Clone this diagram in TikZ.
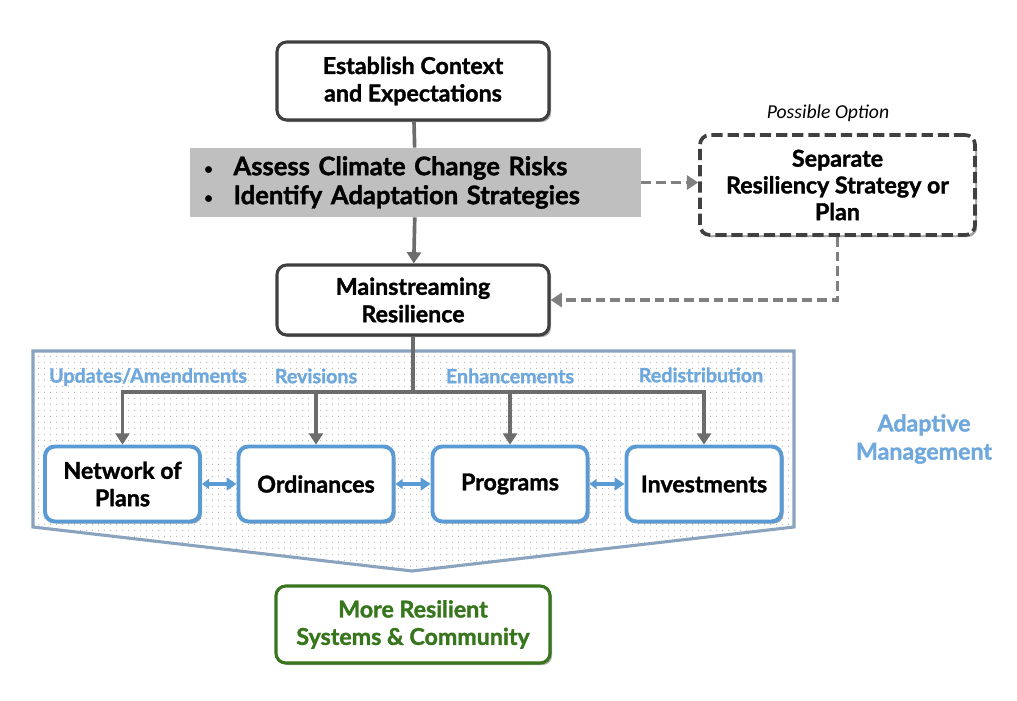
\documentclass[tikz,border=0pt]{standalone}
\usepackage{fontspec}
\setmainfont{Lato}[BoldFeatures={FakeBold=1.4}]
\newfontfamily\calibri{Carlito}
\usepackage{xcolor}
\definecolor{grisborde}{RGB}{64, 64, 64}
\definecolor{grislinea}{RGB}{108, 108, 108}
\definecolor{grisdash}{RGB}{128, 128, 128}
\definecolor{grisfondo}{RGB}{191, 191, 191}
\definecolor{azulcaja}{RGB}{91, 155, 213}
\definecolor{azultexto}{RGB}{111, 168, 220}
\definecolor{azulmarco}{RGB}{138, 163, 190}
\definecolor{verdeoscuro}{RGB}{56, 118, 29}
\usepackage{tikz}
\usetikzlibrary{shapes, positioning, arrows.meta, shadows, patterns.meta}

\tikzdeclarepattern{
  name=puntos,
  type=uncolored,
  bounding box={(0pt,0pt) and (4.3pt,4.3pt)},
  tile size={(4.3pt,4.3pt)},
  code={\fill (2.15pt,2.15pt) circle (0.5pt);}
}

\tikzset{
  sombra/.style={drop shadow={shadow xshift=1.5pt, shadow yshift=-1.5pt, opacity=0.35, fill=black}},
  caja/.style={draw=grisborde, line width=2.2pt, rounded corners=7pt, fill=white, align=center,
    font=\fontsize{16.5}{19.5}\selectfont\bfseries, sombra},
  cajaazul/.style={caja, draw=azulcaja, line width=2.8pt, minimum width=3.875cm, minimum height=1.875cm},
  linea/.style={draw=grislinea, line width=2.6pt, -{Triangle[width=10pt,length=8pt]}},
  lineadash/.style={draw=grisdash, line width=2.6pt, dash pattern=on 7pt off 3.5pt,
    -{Triangle[width=10pt,length=8pt]}},
  doble/.style={draw=azulcaja, line width=2.4pt,
    {Triangle[width=7pt,length=5pt]}-{Triangle[width=9pt,length=7pt]}},
  etiqueta/.style={text=azultexto, font=\fontsize{14}{16}\selectfont\bfseries}
}

\begin{document}
\begin{tikzpicture}[x=0.025cm, y=-0.025cm]
  \useasboundingbox (0,0) rectangle (1017,701);

  % Marco de gestion adaptativa
  \draw[azulmarco, line width=2.2pt, pattern=puntos, pattern color=gray!60]
    (33,351) -- (794,351) -- (794,527) -- (412,571) -- (33,527) -- cycle;

  % Cajas principales
  \node[caja, minimum width=6.8cm, minimum height=1.95cm] (contexto) at (413,81)
    {Establish Context\\and Expectations};
  \node[fill=grisfondo, minimum width=11.275cm, minimum height=1.725cm, text width=10.6cm,
    inner xsep=0.325cm, align=left, font=\fontsize{18.2}{20.6}\selectfont\bfseries] (riesgos) at (415.5,182.5)
    {\makebox[0.75cm][l]{\mdseries\fontsize{13}{13}\selectfont•}Assess Climate Change Risks\\
     \makebox[0.75cm][l]{\mdseries\fontsize{13}{13}\selectfont•}Identify Adaptation Strategies};
  \node[caja, minimum width=6.8cm, minimum height=1.75cm] (integrar) at (413,300)
    {Mainstreaming\\Resilience};

  % Opcion separada
  \node[caja, dash pattern=on 8pt off 3.5pt, line width=2.6pt, minimum width=6.875cm, minimum height=2.5cm,
    font=\fontsize{16.5}{19}\selectfont\bfseries] (separado) at (837.5,185) {Separate\\Resiliency Strategy or\\Plan};
  \node[font=\calibri\itshape\fontsize{14}{16}\selectfont] (opcion) at (828,113) {Possible Option};

  % Cajas de instrumentos
  \node[cajaazul] (red) at (122.5,484) {Network of\\Plans};
  \node[cajaazul] (ordenanzas) at (316,484) {Ordinances};
  \node[cajaazul] (programas) at (510,484) {Programs};
  \node[cajaazul] (inversiones) at (704,484) {Investments};

  % Resultado
  \node[caja, draw=verdeoscuro, text=verdeoscuro, minimum width=6.85cm, minimum height=1.925cm]
    (resultado) at (413,624.5) {More Resilient\\Systems \& Community};

  % Etiquetas
  \node[etiqueta] (actualizar) at (148,377) {Updates/Amendments};
  \node[etiqueta] (revisar) at (316,376) {Revisions};
  \node[etiqueta] (mejorar) at (510,376) {Enhancements};
  \node[etiqueta] (redistribuir) at (701,375) {Redistribution};
  \node[text=azultexto, align=center, font=\fontsize{16.5}{20}\selectfont\bfseries] (adaptativa) at (924,439)
    {Adaptive\\Management};

  % Conectores
  \draw[linea, -] (contexto) -- (riesgos);
  \draw[linea] (riesgos) -- (integrar);
  \draw[lineadash] (riesgos.east) -- (separado.west |- riesgos.east);
  \draw[lineadash] (separado.south) |- (integrar.east);

  \coordinate (barra) at (413,392);
  \draw[linea, -] (integrar) -- (barra);
  \draw[linea, -, line cap=rect] (red.north |- barra) -- (inversiones.north |- barra);
  \foreach \caja in {red, ordenanzas, programas, inversiones}
    \draw[linea] (\caja.north |- barra) -- (\caja.north);

  \draw[doble] (red) -- (ordenanzas);
  \draw[doble] (ordenanzas) -- (programas);
  \draw[doble] (programas) -- (inversiones);
\end{tikzpicture}
\end{document}
